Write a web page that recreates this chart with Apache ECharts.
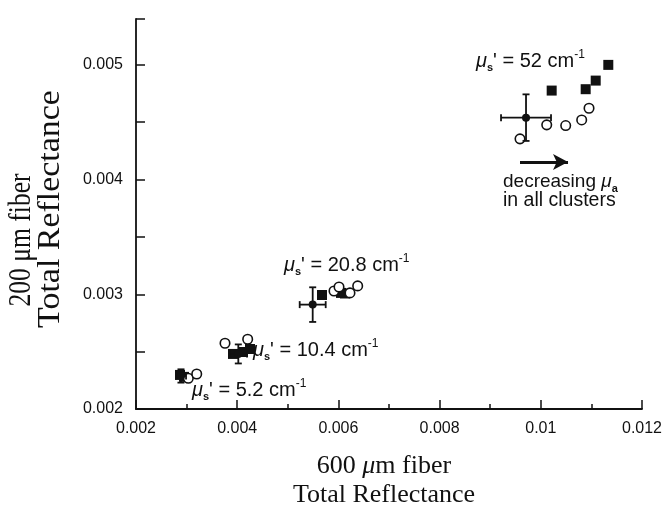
<!DOCTYPE html>
<html>
<head>
<meta charset="utf-8">
<script src="https://cdn.jsdelivr.net/npm/echarts@6/dist/echarts.min.js"></script>
<style>
  html, body { margin: 0; padding: 0; background: #fff; }
  #chart { width: 668px; height: 511px; }
</style>
</head>
<body>
<div id="chart"></div>
<script>
// axis ticks
const xLabels = [0.002, 0.004, 0.006, 0.008, 0.01, 0.012];
const yLabels = [0.002, 0.003, 0.004, 0.005];
const yTickMarks = [0.002, 0.0025, 0.003, 0.0035, 0.004, 0.0045, 0.005, 0.0054];

// filled squares  [600um, 200um]
const squares = [
  [0.00287, 0.002297], [0.002949, 0.00228],
  [0.003917, 0.00248], [0.004115, 0.002497], [0.004253, 0.002523],
  [0.005676, 0.002994], [0.006051, 0.003012], [0.00613, 0.003007],
  [0.010215, 0.004776], [0.010887, 0.004788], [0.011085, 0.004863], [0.011334, 0.005],
];
// open circles
const circles = [
  [0.003034, 0.002268], [0.0032, 0.002305],
  [0.003759, 0.002573], [0.004207, 0.002608],
  [0.005913, 0.003029], [0.006012, 0.003064], [0.006229, 0.003012], [0.006381, 0.003073],
  [0.009589, 0.004355], [0.010117, 0.004477], [0.010492, 0.004471], [0.010808, 0.00452], [0.010953, 0.004622],
];
// cluster means with error bars [x, y, xErr, yErr]
const means = [
  [0.002889, 0.002288, 0.0001, 0.000058],
  [0.004022, 0.00248, 0.000172, 0.000083],
  [0.005492, 0.00291, 0.000257, 0.000151],
  [0.009708, 0.00454, 0.000494, 0.000203],
];
const arrowFrom = [0.009589, 0.004154];
const arrowTo = [0.010538, 0.004154];

const clusterLabels = [
  { text: "' = 52 cm", x: 476, y: 61 },
  { text: "' = 20.8 cm", x: 284, y: 265 },
  { text: "' = 10.4 cm", x: 253, y: 350 },
  { text: "' = 5.2 cm", x: 192, y: 390 },
];

const ink = '#111';
const sans = 'Liberation Sans, Arial, sans-serif';
const serif = 'Liberation Serif, Times New Roman, serif';

const chart = echarts.init(document.getElementById('chart'));

const rich = {
  m: { fontFamily: sans, fontSize: 20, fontStyle: 'italic', fill: ink },
  s: { fontFamily: sans, fontSize: 11, fontWeight: 'bold', fill: ink, padding: [13, 0, 0, 0] },
  t: { fontFamily: sans, fontSize: 20, fill: ink },
  u: { fontFamily: sans, fontSize: 12, fill: ink, padding: [0, 0, 13, 0] },
};

const graphic = clusterLabels.map((c) => ({
  type: 'text',
  x: c.x,
  y: c.y,
  style: {
    text: '{m|μ}{s|s}{t|' + c.text + '}{u|-1}',
    rich,
    verticalAlign: 'middle',
  },
}));

const richA = Object.assign({}, rich, {
  m: { fontFamily: sans, fontSize: 19, fontStyle: 'italic', fill: ink },
  t: { fontFamily: sans, fontSize: 19, fill: ink },
});

graphic.push(
  { type: 'text', x: 503, y: 182, style: { text: '{t|decreasing }{m|μ}{s|a}', rich: richA, verticalAlign: 'middle' } },
  { type: 'text', x: 503, y: 201, style: { text: 'in all clusters', font: '19.5px ' + sans, fill: ink, verticalAlign: 'middle' } },
  { type: 'text', x: 384, y: 466, style: { text: '600 {i|μ}m fiber', font: '26px ' + serif, fill: ink, align: 'center', verticalAlign: 'middle',
      rich: { i: { fontFamily: serif, fontSize: 26, fontStyle: 'italic', fill: ink } } } },
  { type: 'text', x: 384, y: 495, style: { text: 'Total Reflectance', font: '26px ' + serif, fill: ink, align: 'center', verticalAlign: 'middle' } },
  { type: 'text', x: 22, y: 240, rotation: Math.PI / 2, scaleX: 0.8, style: { text: '200 μm fiber', font: '32px ' + serif, fill: ink, align: 'center', verticalAlign: 'middle' } },
  { type: 'text', x: 51, y: 209, rotation: Math.PI / 2, scaleX: 1.06, style: { text: 'Total Reflectance', font: '32px ' + serif, fill: ink, align: 'center', verticalAlign: 'middle' } },
);

chart.setOption({
  animation: false,
  backgroundColor: '#fff',
  grid: { left: 136, right: 26, top: 19, bottom: 102 },
  xAxis: {
    type: 'value',
    min: 0.002,
    max: 0.012,
    interval: 0.002,
    splitLine: { show: false },
    axisLine: { lineStyle: { color: ink, width: 1.8 } },
    axisTick: { inside: true, length: 9, lineStyle: { color: ink, width: 1.5 } },
    minorTick: { show: true, splitNumber: 2, length: 5, lineStyle: { color: ink, width: 1.5 } },
    axisLabel: { color: ink, fontFamily: sans, fontSize: 16, margin: 12, customValues: xLabels },
  },
  yAxis: {
    type: 'value',
    min: 0.002,
    max: 0.0054,
    interval: 0.001,
    splitLine: { show: false },
    axisLine: { lineStyle: { color: ink, width: 1.8 } },
    axisTick: { inside: true, length: 9, customValues: yTickMarks, lineStyle: { color: ink, width: 1.5 } },
    axisLabel: { color: ink, fontFamily: sans, fontSize: 16, margin: 13, customValues: yLabels },
  },
  graphic,
  series: [
    {
      type: 'custom',
      data: means,
      z: 3,
      renderItem: (params, api) => {
        const x = api.value(0), y = api.value(1), dx = api.value(2), dy = api.value(3);
        const c = api.coord([x, y]);
        const l = api.coord([x - dx, y]);
        const r = api.coord([x + dx, y]);
        const t = api.coord([x, y + dy]);
        const b = api.coord([x, y - dy]);
        const cap = 3.5;
        const st = { stroke: ink, lineWidth: 1.8 };
        const seg = (x1, y1, x2, y2) => ({ type: 'line', shape: { x1, y1, x2, y2 }, style: st });
        return {
          type: 'group',
          children: [
            seg(l[0], l[1], r[0], r[1]),
            seg(t[0], t[1], b[0], b[1]),
            seg(l[0], l[1] - cap, l[0], l[1] + cap),
            seg(r[0], r[1] - cap, r[0], r[1] + cap),
            seg(t[0] - cap, t[1], t[0] + cap, t[1]),
            seg(b[0] - cap, b[1], b[0] + cap, b[1]),
            { type: 'circle', shape: { cx: c[0], cy: c[1], r: 4 }, style: { fill: ink } },
          ],
        };
      },
      markLine: {
        silent: true,
        symbol: ['none', 'arrow'],
        symbolSize: [12, 15],
        label: { show: false },
        lineStyle: { color: ink, width: 3, type: 'solid' },
        data: [[{ coord: arrowFrom }, { coord: arrowTo }]],
      },
    },
    {
      type: 'scatter',
      data: squares,
      symbol: 'rect',
      symbolSize: 10,
      itemStyle: { color: ink, opacity: 1 },
      z: 2,
    },
    {
      type: 'scatter',
      data: circles,
      symbol: 'circle',
      symbolSize: 9.5,
      itemStyle: { color: '#fff', borderColor: ink, borderWidth: 1.6, opacity: 1 },
      z: 2,
    },
  ],
});
</script>
</body>
</html>
